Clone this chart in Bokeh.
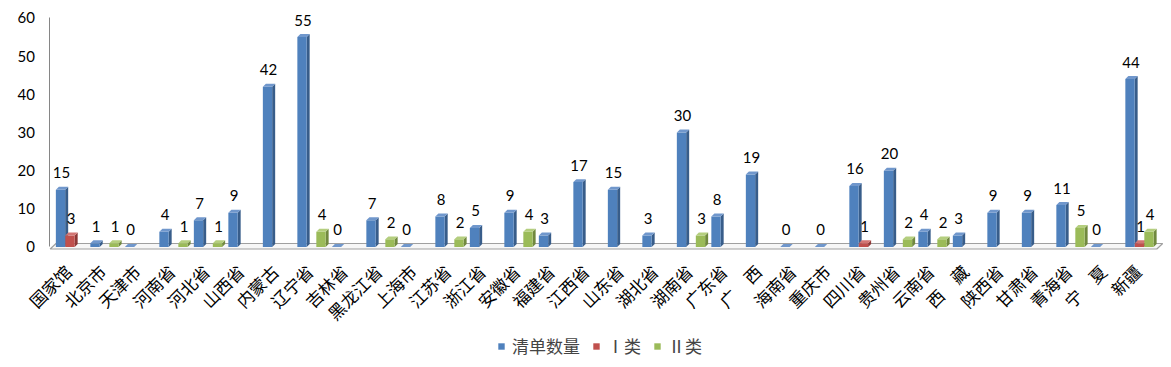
from math import pi
from bokeh.plotting import figure
from bokeh.models import Range1d, FixedTicker, ColumnDataSource, Legend, LegendItem
from bokeh.core.properties import value
from bokeh.embed import file_html
from bokeh.resources import INLINE

categories = ["国家馆", "北京市", "天津市", "河南省", "河北省", "山西省", "内蒙古", "辽宁省",
              "吉林省", "黑龙江省", "上海市", "江苏省", "浙江省", "安徽省", "福建省", "江西省",
              "山东省", "湖北省", "湖南省", "广东省", "广　西", "海南省", "重庆市", "四川省",
              "贵州省", "云南省", "西　藏", "陕西省", "甘肃省", "青海省", "宁　夏", "新疆"]
qingdan = [15, 1, 0, 4, 7, 9, 42, 55, 0, 7, 0, 8, 5, 9, 3, 17,
           15, 3, 30, 8, 19, 0, 0, 16, 20, 4, 3, 9, 9, 11, 0, 44]
lei1 = [3, None, None, None, None, None, None, None, None, None, None, None, None, None, None, None,
        None, None, None, None, None, None, None, 1, None, None, None, None, None, None, None, 1]
lei2 = [None, 1, None, 1, 1, None, None, 4, None, 2, None, 2, None, 4, None, None,
        None, None, 3, None, None, None, None, None, 2, 2, None, None, None, 5, None, 4]
series_names = ["清单数量", "Ⅰ类", "Ⅱ类"]
y_ticks = [0, 10, 20, 30, 40, 50, 60]

# styles
front_colors = ["#4F81BD", "#C0504D", "#9BBB59"]
side_colors = ["#385D8A", "#8C3836", "#71893F"]
top_colors = ["#7097CC", "#D27573", "#B4CE7E"]
offsets = [-0.275, 0.0, 0.275]
bar_w = 0.27
dx, dy = 0.087, 0.78   # 3D depth (about 3px)
axis_x = -0.58         # where the value axis stands

p = figure(width=1171, height=367, output_backend="svg", toolbar_location=None,
           x_range=Range1d(-2.0145, 31.696), y_range=Range1d(-31.57, 64.58),
           min_border_left=0, min_border_right=8, min_border_top=0, min_border_bottom=0)
p.outline_line_color = None
p.xgrid.visible = False
p.ygrid.visible = False
p.background_fill_color = "white"
p.xaxis.visible = False

# floor of the 3D chart
x0, x1 = axis_x + 0.005, len(categories) - 0.5 + 0.003
p.patch([x0, x1, x1 + 0.17, x0 + 0.17], [-0.52, -0.52, 0.92, 0.92],
        fill_color="#F7F7F7", line_color="#A0A0A0", line_width=1.2)

legend_items = []
for s, vals in enumerate([qingdan, lei1, lei2]):
    xs_c, vs = [], []
    for i, v in enumerate(vals):
        if v is None:
            continue
        xs_c.append(i + offsets[s])
        vs.append(v)
    hw = bar_w / 2
    side_xs = [[c + hw, c + hw + dx, c + hw + dx, c + hw] for c in xs_c]
    side_ys = [[0, dy, v + dy, v] for v in vs]
    top_xs = [[c - hw, c + hw, c + hw + dx, c - hw + dx] for c in xs_c]
    top_ys = [[v, v, v + dy, v + dy] for v in vs]
    p.patches(side_xs, side_ys, fill_color=side_colors[s], line_color=None)
    src = ColumnDataSource(dict(x=xs_c, top=vs))
    r = p.vbar(x="x", top="top", bottom=0, width=bar_w, source=src,
               fill_color=front_colors[s], line_color=None)
    p.patches(top_xs, top_ys, fill_color=top_colors[s], line_color=None)
    legend_items.append(LegendItem(label=series_names[s], renderers=[r]))

# data labels (drawn last so they sit on top)
for s, vals in enumerate([qingdan, lei1, lei2]):
    xs_c = [i + offsets[s] + 0.03 for i, v in enumerate(vals) if v is not None]
    vs = [v for v in vals if v is not None]
    p.text(x=xs_c, y=vs, text=[str(v) for v in vs], text_align="center",
           text_baseline="middle", y_offset=-17, text_font=value("Lato"),
           text_font_size="15px", text_color="black")

# category labels, rotated 45 degrees under the floor
p.text(x=[i - 0.06 for i in range(len(categories))], y=[0] * len(categories),
       text=categories, angle=pi / 4, text_align="right", text_baseline="middle",
       y_offset=21, text_font=value("Noto Sans CJK SC"), text_font_size="17px",
       text_color="black")

# y axis, pinned at the left edge of the floor
p.yaxis.fixed_location = axis_x
p.yaxis.ticker = FixedTicker(ticks=y_ticks)
p.yaxis.bounds = (0, 60)
p.yaxis.axis_line_color = "#868686"
p.yaxis.major_tick_line_color = None
p.yaxis.minor_tick_line_color = None
p.yaxis.major_tick_out = 0
p.yaxis.major_label_standoff = 15
p.yaxis.major_label_text_font = "Lato"
p.yaxis.major_label_text_font_size = "15px"
p.yaxis.major_label_text_color = "black"

legend = Legend(items=legend_items, orientation="horizontal", location=(497, 9),
                glyph_width=8, glyph_height=8, label_height=8, label_standoff=7,
                spacing=12, padding=0, margin=0, border_line_color=None,
                background_fill_alpha=0, label_text_font="Noto Sans CJK SC",
                label_text_font_size="17px", label_text_baseline="middle")
p.add_layout(legend, "center")

open("out.html", "w").write(file_html(p, INLINE))
